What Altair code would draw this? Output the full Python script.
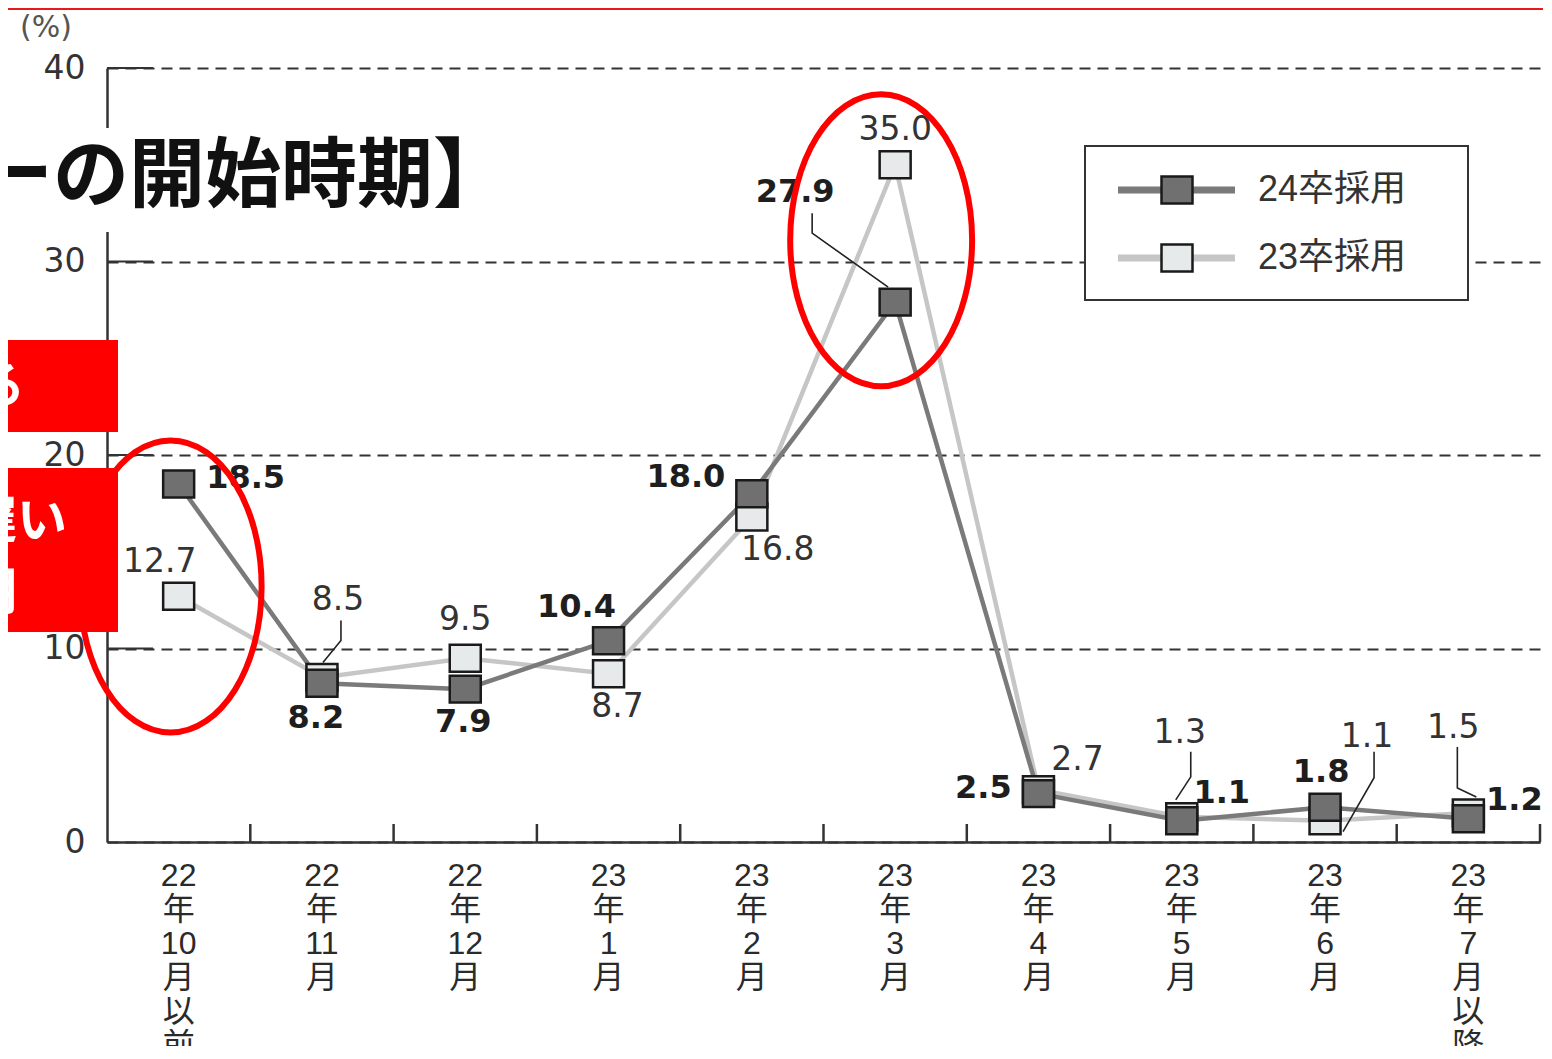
import altair as alt
import pandas as pd

# ---------------- data ----------------
categories = ["22年10月以前", "22年11月", "22年12月", "23年1月", "23年2月",
              "23年3月", "23年4月", "23年5月", "23年6月", "23年7月以降"]
x_tick_labels = ["22\n年\n10\n月\n以\n前", "22\n年\n11\n月", "22\n年\n12\n月",
                 "23\n年\n1\n月", "23\n年\n2\n月", "23\n年\n3\n月", "23\n年\n4\n月",
                 "23\n年\n5\n月", "23\n年\n6\n月", "23\n年\n7\n月\n以\n降"]
series_names = ["24卒採用", "23卒採用"]
values_24 = [18.5, 8.2, 7.9, 10.4, 18.0, 27.9, 2.5, 1.1, 1.8, 1.2]
values_23 = [12.7, 8.5, 9.5, 8.7, 16.8, 35.0, 2.7, 1.3, 1.1, 1.5]
y_ticks = [0, 10, 20, 30, 40]
highlight_categories = ["22年10月以前", "23年3月"]

# ---------------- layout / style (pixels) ----------------
W, H = 1433, 774
PX = W / len(categories)
PY = H / 40.0

# label offsets (px) relative to each marker
off_24 = [(67, -6), (-6, 35), (-2, 33), (-32, -34), (-66, -17), (-100, -110),
          (-55, -6), (40, -28), (-4, -35), (46, -19)]
off_23 = [(-19, -34), (16, -78), (0, -38), (9, 33), (26, 33), (0, -35),
          (39, -30), (-2, -84), (42, -84), (-15, -85)]
# leader lines: (series, index, polyline offsets in px)
leaders = [
    ("24卒採用", 5, [(-83, -89), (-83, -69), (-7, -15)]),
    ("23卒採用", 1, [(19, -57), (19, -37), (1, -15)]),
    ("23卒採用", 7, [(9, -65), (9, -40), (-6, -17)]),
    ("23卒採用", 8, [(49, -69), (49, -43), (18, 11)]),
    ("23卒採用", 9, [(-11, -66), (-11, -25), (8, -16)]),
]
# ellipse centre offsets (px) relative to band centre / value of the highlighted band
ellipse_offsets = [(-8, 13.2), (-14, 31.1)]

RECT = "M -1 -0.87 L 1 -0.87 L 1 0.87 L -1 0.87 Z"
a, k = 0.623, 0.5523
ELLIPSE = (f"M 0 -1 C {k*a:.3f} -1 {a} {-k:.3f} {a} 0 C {a} {k:.3f} {k*a:.3f} 1 0 1 "
           f"C {-k*a:.3f} 1 {-a} {k:.3f} {-a} 0 C {-a} {-k:.3f} {-k*a:.3f} -1 0 -1 Z")

NUM_FONT = "DejaVu Sans"
JP_FONT = "Liberation Sans, Noto Sans CJK JP"

xs = alt.Scale(domain=[0, len(categories)], nice=False, zero=False)
ys = alt.Scale(domain=[0, 40], nice=False, zero=False)
YAX = alt.Axis(values=y_ticks, title=None)


def X(f):
    return alt.X(f"{f}:Q", scale=xs, title=None)


def Y(f):
    return alt.Y(f"{f}:Q", scale=ys, axis=YAX)


rows = []
for s, vals, offs in [(series_names[0], values_24, off_24), (series_names[1], values_23, off_23)]:
    for i, (c, v) in enumerate(zip(categories, vals)):
        dx, dy = offs[i]
        rows.append({"series": s, "cat": c, "pos": i + 0.5, "value": v,
                     "label": f"{v:.1f}", "lx": i + 0.5 + dx / PX, "ly": v - dy / PY})
df = pd.DataFrame(rows)
d24 = df[df.series == series_names[0]]
d23 = df[df.series == series_names[1]]

lrows = []
for n, (s, idx, pts) in enumerate(leaders):
    v = (values_24 if s == series_names[0] else values_23)[idx]
    for j, (dx, dy) in enumerate(pts):
        lrows.append({"id": n, "o": j, "x": idx + 0.5 + dx / PX, "y": v - dy / PY})
dlead = pd.DataFrame(lrows)

erows = []
for c, (dx, yv) in zip(highlight_categories, ellipse_offsets):
    i = categories.index(c)
    erows.append({"x": i + 0.5 + dx / PX, "y": yv})
dell = pd.DataFrame(erows)

one = pd.DataFrame({"a": [0]})

# ---------------- layers ----------------
title_bg = alt.Chart(one).mark_rect(fill="white").encode(
    x=alt.value(-110), x2=alt.value(366), y=alt.value(60), y2=alt.value(164))
title_txt = alt.Chart(one).mark_text(
    font="Noto Sans CJK JP", fontSize=76, fontWeight="bold", color="#111",
    align="right", baseline="middle").encode(
    x=alt.value(402), y=alt.value(110), text=alt.value("【エントリーの開始時期】"))

ytick_rules = alt.Chart(pd.DataFrame({"v": y_ticks[1:]})).mark_rule(
    color="#333", strokeWidth=2).encode(x=alt.value(0), x2=alt.value(46), y=Y("v"))
xtick_rules = alt.Chart(pd.DataFrame({"p": [i + 1 for i in range(len(categories))]})).mark_rule(
    color="#333", strokeWidth=2.5).encode(x=X("p"), y=alt.value(H), y2=alt.value(H - 18))

line23 = alt.Chart(d23).mark_line(color="#c6c6c6", strokeWidth=4.5).encode(
    x=X("pos"), y=Y("value"), order="pos:Q")
line24 = alt.Chart(d24).mark_line(color="#7a7a7a", strokeWidth=4.5).encode(
    x=X("pos"), y=Y("value"), order="pos:Q")
pts23 = alt.Chart(d23).mark_point(shape=RECT, size=961, filled=True, fill="#e6eaea",
                                  stroke="#1a1a1a", strokeWidth=2.5, opacity=1).encode(
    x=X("pos"), y=Y("value"))
pts24 = alt.Chart(d24).mark_point(shape=RECT, size=961, filled=True, fill="#707070",
                                  stroke="#1a1a1a", strokeWidth=2.5, opacity=1).encode(
    x=X("pos"), y=Y("value"))
lead = alt.Chart(dlead).mark_line(color="#222", strokeWidth=1.6).encode(
    x=X("x"), y=Y("y"), detail="id:N", order="o:Q")
lab24 = alt.Chart(d24).mark_text(font=NUM_FONT, fontSize=32, fontWeight="bold",
                                 color="#1e1e1e", baseline="middle").encode(
    x=X("lx"), y=Y("ly"), text="label:N")
lab23 = alt.Chart(d23).mark_text(font=NUM_FONT, fontSize=33, color="#333",
                                 baseline="middle").encode(
    x=X("lx"), y=Y("ly"), text="label:N")

xlab = alt.Chart(pd.DataFrame({"pos": [i + 0.5 for i in range(len(categories))],
                               "lab": x_tick_labels})).mark_text(
    font=JP_FONT, fontSize=32, lineBreak="\n", lineHeight=34, baseline="top",
    color="#2a2a2a").encode(x=X("pos"), y=alt.value(H + 19), text="lab:N")

pct = alt.Chart(one).mark_text(font=NUM_FONT, fontSize=30, color="#555").encode(
    x=alt.value(-61), y=alt.value(-40), text=alt.value("(%)"))

legend_box = alt.Chart(one).mark_rect(fill="white", stroke="#333", strokeWidth=2).encode(
    x=alt.value(978), x2=alt.value(1361), y=alt.value(78), y2=alt.value(232))
legend_layers = [legend_box]
for name, ly, lc, fc in [(series_names[0], 122, "#7a7a7a", "#707070"),
                         (series_names[1], 190, "#c6c6c6", "#e6eaea")]:
    legend_layers.append(alt.Chart(one).mark_rule(color=lc, strokeWidth=7).encode(
        x=alt.value(1011), x2=alt.value(1128), y=alt.value(ly)))
    legend_layers.append(alt.Chart(one).mark_point(
        shape=RECT, size=961, filled=True, fill=fc, stroke="#1a1a1a",
        strokeWidth=2.5, opacity=1).encode(x=alt.value(1070), y=alt.value(ly)))
    legend_layers.append(alt.Chart(one).mark_text(
        font=JP_FONT, fontSize=36, color="#333", align="left", baseline="middle").encode(
        x=alt.value(1151), y=alt.value(ly), text=alt.value(name)))

red = "#ff0000"
box1 = alt.Chart(one).mark_rect(color=red).encode(
    x=alt.value(-110), x2=alt.value(11), y=alt.value(272), y2=alt.value(364))
box2 = alt.Chart(one).mark_rect(color=red).encode(
    x=alt.value(-110), x2=alt.value(11), y=alt.value(400), y2=alt.value(564))
bt1 = alt.Chart(one).mark_text(font="Noto Sans CJK JP", fontSize=50, fontWeight="bold",
                               color="white", align="right", baseline="middle").encode(
    x=alt.value(-82), y=alt.value(320), text=alt.value("早まる"))
bt2 = alt.Chart(one).mark_text(font="Noto Sans CJK JP", fontSize=50, fontWeight="bold",
                               color="white", align="right", baseline="middle").encode(
    x=alt.value(-40), y=alt.value(455), text=alt.value("遅い"))
bt3 = alt.Chart(one).mark_text(font="Noto Sans CJK JP", fontSize=50, fontWeight="bold",
                               color="white", align="right", baseline="middle").encode(
    x=alt.value(-90), y=alt.value(526), text=alt.value("時期"))

ellipses = alt.Chart(dell).mark_point(shape=ELLIPSE, size=292 * 292, filled=False,
                                      stroke=red, strokeWidth=6, opacity=1).encode(
    x=X("x"), y=Y("y"))

top_line = alt.Chart(one).mark_rule(color="#e8191a", strokeWidth=2).encode(
    x=alt.value(-110), x2=alt.value(W + 20), y=alt.value(-59))

chart = alt.layer(
    title_bg, title_txt, ytick_rules, xtick_rules,
    line23, line24, pts23, pts24, lead, lab23, lab24, xlab,
    *legend_layers, box1, box2, bt1, bt2, bt3, ellipses, pct, top_line,
).properties(
    width=W, height=H,
    autosize=alt.AutoSizeParams(type="none"),
    padding={"left": 99, "top": 60, "right": 3, "bottom": 204},
    background="white",
).configure_view(stroke=None).configure_axisX(
    labels=False, ticks=False, grid=False, domainColor="#333", domainWidth=2.5, title=None
).configure_axisY(
    ticks=False, domainColor="#333", domainWidth=2.5, grid=True, gridColor="#333",
    gridDash=[11, 7], gridWidth=1.8, labelFont=NUM_FONT, labelFontSize=33,
    labelColor="#333", labelPadding=22, title=None
)

chart.save("out.html", embed_options={"renderer": "svg", "actions": False})
